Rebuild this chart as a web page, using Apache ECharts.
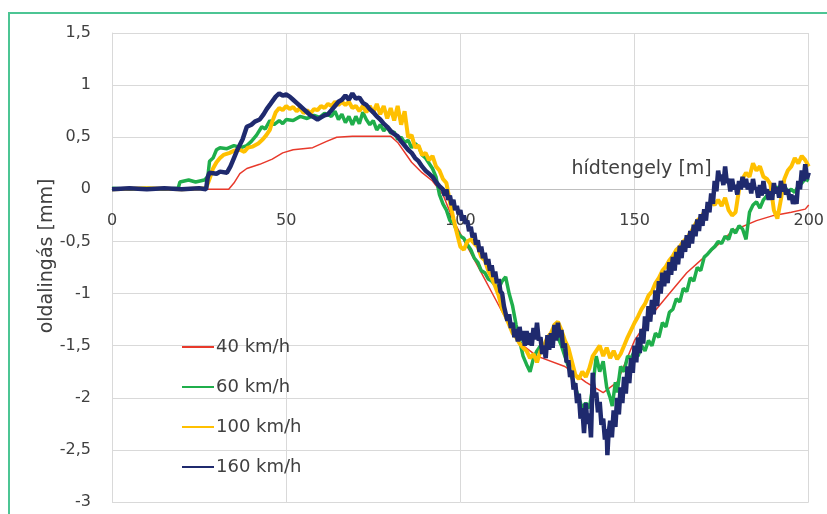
<!DOCTYPE html>
<html>
<head>
<meta charset="utf-8">
<script src="https://cdn.jsdelivr.net/npm/echarts@6/dist/echarts.min.js"></script>
<style>
html,body{margin:0;padding:0;background:#fff;overflow:hidden;}
#c{width:827px;height:514px;}
</style>
</head>
<body>
<div id="c"></div>
<script>
const seriesNames = ['40 km/h', '60 km/h', '100 km/h', '160 km/h'];
const xTicks = [0, 50, 100, 150, 200];
const yTicks = [-3, -2.5, -2, -1.5, -1, -0.5, 0, 0.5, 1, 1.5];

const s40 = [[0,0],[33.5,0],[35,0.06],[36.7,0.15],[38.7,0.2],[42.4,0.24],[46,0.29],[49,0.35],[52,0.38],[57.6,0.4],[61.6,0.46],[64.5,0.5],[69,0.51],[80,0.51],[82,0.45],[86,0.26],[89,0.16],[92,0.08],[95,-0.05],[98,-0.3],[102,-0.55],[106,-0.8],[110,-1.05],[114,-1.3],[118,-1.5],[122,-1.6],[130,-1.7],[136,-1.85],[141,-1.95],[145,-1.85],[150,-1.45],[155,-1.2],[160,-1.0],[165,-0.8],[170,-0.65],[175,-0.5],[178,-0.4],[185,-0.3],[190,-0.25],[195,-0.22],[199,-0.19],[200,-0.15]];

const s60 = [[0,0.01],[5,0],[10,0.01],[15,0],[19,0.01],[19.5,0.07],[22,0.09],[24,0.07],[26.5,0.09],[27.5,0.12],[28,0.27],[29,0.3],[30,0.38],[31,0.4],[33,0.39],[35,0.42],[37,0.4],[38.7,0.42],[40,0.46],[41.5,0.52],[43,0.6],[44,0.58],[45.3,0.66],[46.5,0.62],[48,0.66],[49,0.63],[50,0.67],[52,0.66],[54,0.7],[56,0.68],[58,0.71],[59.6,0.69],[61,0.73],[63,0.7],[64,0.75],[65,0.67],[66,0.72],[67,0.64],[68,0.7],[69,0.62],[70,0.7],[71,0.63],[72,0.74],[73,0.67],[74,0.62],[75,0.66],[76,0.57],[77,0.62],[78,0.56],[79,0.6],[80,0.54],[81,0.55],[82,0.48],[83,0.5],[84,0.45],[85,0.47],[86,0.4],[87,0.44],[88,0.41],[89,0.33],[90,0.3],[91,0.25],[92,0.2],[93,0.12],[94,-0.05],[95,-0.14],[96,-0.2],[97,-0.3],[98,-0.32],[99,-0.4],[100,-0.45],[101,-0.47],[102,-0.53],[103,-0.58],[104,-0.66],[105,-0.7],[106,-0.78],[107,-0.8],[108,-0.86],[109,-0.88],[110,-0.92],[111,-0.95],[112,-0.88],[113,-0.84],[114,-1.0],[115,-1.12],[116,-1.3],[117,-1.45],[118,-1.6],[119,-1.68],[120,-1.75],[121,-1.62],[122,-1.55],[123,-1.5],[124,-1.52],[125,-1.45],[126,-1.48],[127,-1.4],[128,-1.42],[129,-1.5],[130,-1.6],[131,-1.7],[132,-1.8],[133,-1.9],[134,-2.0],[135,-2.1],[136,-2.05],[137,-2.1],[138,-1.9],[139,-1.6],[140,-1.75],[141,-1.65],[142,-1.9],[143,-2.0],[143.6,-2.08],[144.5,-1.85],[145,-1.95],[146,-1.7],[147,-1.75],[148,-1.6],[149,-1.62],[150,-1.55],[151,-1.6],[152,-1.5],[153,-1.55],[154,-1.45],[155,-1.5],[156,-1.38],[157,-1.42],[158,-1.28],[159,-1.32],[160,-1.18],[161,-1.15],[162,-1.05],[163,-1.08],[164,-0.95],[165,-0.98],[166,-0.85],[167,-0.88],[168,-0.75],[169,-0.78],[170,-0.65],[171,-0.62],[172,-0.58],[173,-0.55],[174,-0.5],[175,-0.52],[176,-0.45],[177,-0.48],[178,-0.38],[179,-0.42],[180,-0.35],[181,-0.38],[182,-0.48],[183,-0.22],[184,-0.15],[185,-0.12],[186,-0.18],[187,-0.1],[188,-0.06],[189,-0.02],[190,0.0],[191,0.02],[192,0.0],[193,0.03],[194,-0.02],[195,0.0],[196,-0.03],[197,0.03],[198,0.06],[199,0.1],[200,0.08]];

const s100 = [[0,0],[10,0.01],[20,0],[27,0.01],[28,0.1],[29,0.2],[30,0.26],[31,0.3],[32,0.33],[33.8,0.35],[35,0.37],[36.7,0.38],[38,0.36],[39,0.4],[40.4,0.41],[42,0.44],[43.3,0.48],[44.3,0.52],[45.3,0.57],[46,0.65],[47,0.74],[48,0.78],[49,0.76],[50,0.8],[51,0.77],[52,0.79],[53,0.75],[54,0.78],[55,0.73],[56,0.76],[57,0.73],[58,0.77],[59,0.76],[60,0.8],[61,0.78],[62,0.82],[63,0.8],[64,0.84],[65,0.81],[66,0.84],[67,0.81],[68,0.84],[69,0.78],[70,0.8],[71,0.75],[72,0.8],[73,0.74],[74,0.8],[75,0.73],[76,0.82],[77,0.72],[78,0.8],[79,0.68],[80,0.78],[81,0.66],[82,0.8],[83,0.62],[84,0.75],[85,0.5],[86,0.52],[87,0.4],[88,0.42],[89,0.33],[90,0.35],[91,0.28],[92,0.32],[93,0.22],[94,0.18],[95,0.1],[96,0.06],[97,-0.12],[98,-0.28],[99,-0.42],[100,-0.55],[101,-0.58],[102,-0.5],[103,-0.48],[104,-0.52],[105,-0.55],[106,-0.65],[107,-0.68],[108,-0.78],[109,-0.85],[110,-0.93],[111,-1.02],[112,-1.15],[113,-1.22],[114,-1.3],[115,-1.38],[116,-1.42],[117,-1.48],[118,-1.52],[119,-1.55],[120,-1.62],[121,-1.58],[122,-1.66],[123,-1.55],[124,-1.5],[125,-1.42],[126,-1.38],[127,-1.3],[128,-1.27],[129,-1.35],[130,-1.45],[131,-1.52],[132,-1.65],[133,-1.78],[134,-1.82],[135,-1.75],[136,-1.8],[137,-1.72],[138,-1.6],[139,-1.55],[140,-1.5],[141,-1.6],[142,-1.52],[143,-1.62],[144,-1.55],[145,-1.63],[146,-1.58],[147,-1.5],[148,-1.42],[149,-1.35],[150,-1.28],[151,-1.22],[152,-1.15],[153,-1.1],[154,-1.02],[155,-0.98],[156,-0.9],[157,-0.85],[158,-0.78],[159,-0.74],[160,-0.68],[161,-0.64],[162,-0.58],[163,-0.55],[164,-0.5],[165,-0.47],[166,-0.42],[167,-0.36],[168,-0.3],[169,-0.27],[170,-0.22],[171,-0.2],[172,-0.12],[173,-0.15],[174,-0.1],[175,-0.16],[176,-0.08],[177,-0.2],[178,-0.25],[179,-0.22],[180,0.0],[181,0.1],[182,0.16],[183,0.12],[184,0.25],[185,0.18],[186,0.22],[187,0.12],[188,0.1],[189,0.05],[190,-0.2],[191,-0.28],[192,-0.1],[193,0.1],[194,0.18],[195,0.22],[196,0.3],[197,0.25],[198,0.32],[199,0.28],[200,0.22]];

const s160 = [[0,0],[5,0.01],[10,0],[15,0.01],[20,0],[25,0.01],[27,0],[27.5,0.12],[28,0.16],[30,0.15],[31,0.17],[33,0.16],[34,0.22],[35,0.3],[36,0.38],[37.5,0.48],[38.7,0.6],[40,0.62],[41,0.65],[42.4,0.67],[43.5,0.72],[44.4,0.77],[45.5,0.82],[47,0.89],[48,0.92],[49,0.9],[50,0.91],[51,0.89],[52,0.86],[53,0.83],[54,0.8],[55,0.77],[56,0.74],[57,0.71],[58,0.69],[59,0.67],[60,0.69],[61,0.71],[62,0.72],[63,0.76],[64,0.8],[65,0.84],[66,0.86],[67,0.9],[68,0.86],[69,0.92],[70,0.87],[71,0.88],[72,0.83],[73,0.81],[74,0.77],[75,0.74],[76,0.7],[77,0.67],[78,0.63],[79,0.6],[80,0.56],[81,0.53],[82,0.51],[83,0.46],[84,0.42],[85,0.38],[86,0.35],[87,0.3],[88,0.27],[89,0.22],[90,0.18],[91,0.15],[92,0.12],[93,0.07],[94,0.03],[95,0.0],[95.5,-0.06],[96,0.0],[96.5,-0.1],[97,-0.06],[97.5,-0.15],[98,-0.1],[98.5,-0.2],[99,-0.16],[99.5,-0.24],[100,-0.2],[100.5,-0.3],[101,-0.25],[101.5,-0.33],[102,-0.3],[102.5,-0.4],[103,-0.36],[103.5,-0.46],[104,-0.42],[104.5,-0.53],[105,-0.49],[105.5,-0.6],[106,-0.55],[106.5,-0.66],[107,-0.61],[107.5,-0.72],[108,-0.67],[108.5,-0.78],[109,-0.73],[109.5,-0.84],[110,-0.79],[110.5,-0.9],[111,-0.86],[111.5,-0.98],[112,-1.0],[112.5,-1.12],[113,-1.12],[113.5,-1.26],[114,-1.2],[114.5,-1.33],[115,-1.28],[115.5,-1.42],[116,-1.34],[116.5,-1.46],[117,-1.32],[117.5,-1.45],[118,-1.36],[118.5,-1.5],[119,-1.36],[119.5,-1.49],[120,-1.38],[120.5,-1.5],[121,-1.33],[121.5,-1.44],[122,-1.28],[122.5,-1.45],[123,-1.42],[123.5,-1.58],[124,-1.5],[124.5,-1.62],[125,-1.4],[125.5,-1.54],[126,-1.38],[126.5,-1.52],[127,-1.3],[127.5,-1.45],[128,-1.28],[128.5,-1.42],[129,-1.35],[129.5,-1.52],[130,-1.48],[130.5,-1.66],[131,-1.64],[131.5,-1.8],[132,-1.74],[132.5,-1.92],[133,-1.86],[133.5,-2.05],[134,-1.96],[134.5,-2.2],[135,-2.1],[135.5,-2.34],[136,-2.05],[136.5,-2.25],[137,-2.15],[137.5,-2.38],[138,-1.76],[138.5,-2.0],[139,-1.95],[139.5,-2.14],[140,-2.04],[140.5,-2.26],[141,-2.2],[141.5,-2.4],[142,-2.3],[142.2,-2.55],[142.5,-2.36],[143,-2.22],[143.5,-2.38],[144,-2.12],[144.5,-2.28],[145,-2.0],[145.5,-2.16],[146,-1.9],[146.5,-2.05],[147,-1.8],[147.5,-1.96],[148,-1.7],[148.5,-1.86],[149,-1.62],[149.5,-1.76],[150,-1.5],[150.5,-1.66],[151,-1.42],[151.5,-1.57],[152,-1.34],[152.5,-1.48],[153,-1.22],[153.5,-1.36],[154,-1.12],[154.5,-1.27],[155,-1.06],[155.5,-1.2],[156,-0.97],[156.5,-1.12],[157,-0.88],[157.5,-1.0],[158,-0.8],[158.5,-0.93],[159,-0.78],[159.5,-0.9],[160,-0.7],[160.5,-0.82],[161,-0.65],[161.5,-0.78],[162,-0.6],[162.5,-0.72],[163,-0.54],[163.5,-0.66],[164,-0.49],[164.5,-0.6],[165,-0.44],[165.5,-0.56],[166,-0.4],[166.5,-0.52],[167,-0.34],[167.5,-0.45],[168,-0.29],[168.5,-0.4],[169,-0.24],[169.5,-0.35],[170,-0.19],[170.5,-0.3],[171,-0.12],[171.5,-0.22],[172,-0.04],[172.5,-0.14],[173,0.08],[173.5,-0.02],[174,0.18],[174.5,0.08],[175,0.14],[175.5,0.04],[176,0.22],[176.5,0.06],[177,0.1],[177.5,-0.02],[178,0.1],[178.5,0.0],[179,0.04],[179.5,-0.05],[180,0.08],[180.5,0.0],[181,0.12],[181.5,0.02],[182,0.1],[182.5,0.0],[183,0.06],[183.5,-0.04],[184,0.1],[184.5,0.0],[185,0.02],[185.5,-0.08],[186,0.04],[186.5,-0.06],[187,0.08],[187.5,-0.04],[188,0.0],[188.5,-0.1],[189,-0.02],[189.5,-0.1],[190,0.06],[190.5,-0.04],[191,0.02],[191.5,-0.08],[192,0.08],[192.5,-0.02],[193,0.05],[193.5,-0.05],[194,0.0],[194.5,-0.1],[195,-0.05],[195.5,-0.14],[196,-0.06],[196.5,-0.14],[197,0.08],[197.5,0.0],[198,0.18],[198.5,0.08],[199,0.24],[199.5,0.1],[200,0.16]];

const colors = ['#e8392b', '#1fae4b', '#ffc000', '#1f2a6e'];
const widths = [1.5, 3.5, 4, 4.5];
const dataSets = [s40, s60, s100, s160];

const FONT = 'DejaVu Sans';
const TXT = '#404040';

const chart = echarts.init(document.getElementById('c'), null, {renderer: 'canvas'});
chart.setOption({
  animation: false,
  backgroundColor: '#ffffff',
  grid: {left: 112, right: 17, top: 33, bottom: 12, containLabel: false},
  graphic: [
    {type: 'rect', silent: true, z: -10,
     shape: {x: 9, y: 13, width: 1000, height: 1000},
     style: {fill: 'none', stroke: '#4cc594', lineWidth: 2}},
    {type: 'text', x: 47, y: 256, rotation: Math.PI / 2,
     style: {text: 'oldalingás [mm]', fill: TXT, font: '19px "DejaVu Sans"', align: 'center', verticalAlign: 'middle'}}
  ],
  legend: {
    orient: 'vertical', left: 177, top: 333,
    itemWidth: 32, itemHeight: 2, itemGap: 22, icon: 'rect',
    textStyle: {fontFamily: FONT, fontSize: 18, color: TXT, padding: [0, 0, 0, -3]},
    data: seriesNames
  },
  xAxis: {
    type: 'value', min: xTicks[0], max: xTicks[xTicks.length - 1], interval: 50,
    position: 'bottom', offset: -313,
    name: 'hídtengely [m]', nameLocation: 'end', nameGap: -97,
    nameTextStyle: {fontFamily: FONT, fontSize: 19, color: TXT, align: 'right', verticalAlign: 'bottom', padding: [0, 0, 10, 0]},
    axisLine: {onZero: false, lineStyle: {color: '#bfbfbf', width: 1}},
    axisTick: {show: false},
    axisLabel: {margin: 24, fontFamily: FONT, fontSize: 16, color: TXT},
    splitLine: {show: true, lineStyle: {color: '#d9d9d9', width: 1}}
  },
  yAxis: {
    type: 'value', min: yTicks[0], max: yTicks[yTicks.length - 1], interval: 0.5,
    axisLine: {show: true, lineStyle: {color: '#d9d9d9'}},
    axisTick: {show: false},
    axisLabel: {margin: 21, fontFamily: FONT, fontSize: 16, color: TXT,
      formatter: v => String(v).replace('.', ',')},
    splitLine: {show: true, lineStyle: {color: '#d9d9d9', width: 1}}
  },
  series: seriesNames.map((n, i) => ({
    name: n, type: 'line', data: dataSets[i], showSymbol: false, symbol: 'none',
    lineStyle: {color: colors[i], width: widths[i]}, itemStyle: {color: colors[i]},
    z: 2 + i, silent: true
  }))
});
</script>
</body>
</html>
